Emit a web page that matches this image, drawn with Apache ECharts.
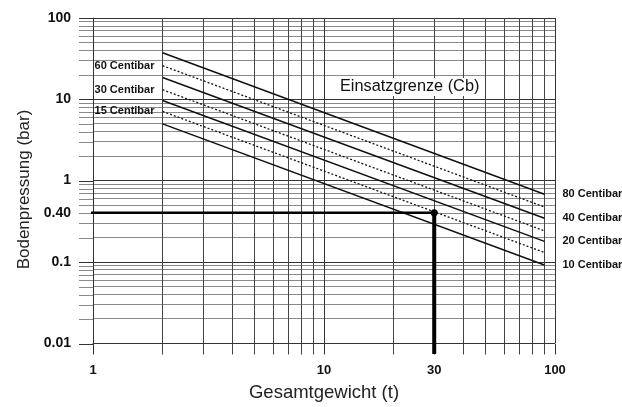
<!DOCTYPE html>
<html><head><meta charset="utf-8">
<script src="https://cdn.jsdelivr.net/npm/echarts@6/dist/echarts.min.js"></script>
<style>html,body{margin:0;padding:0;background:#fff}#c{width:622px;height:407px}</style>
</head><body><div id="c"></div>
<script>
// ---- data ----
const xTickValues = [1, 10, 30, 100];
const xTickLabels = ['1', '10', '30', '100'];
const yTickValues = [0.01, 0.1, 0.4, 1, 10, 100];
const yTickLabels = ['0.01', '0.1', '0.40', '1', '10', '100'];
const xRange = [1, 100];
const yRange = [0.01, 100];
const lineNames = ['80 Centibar', '60 Centibar', '40 Centibar', '30 Centibar', '20 Centibar', '15 Centibar', '10 Centibar'];
const lineDotted = [false, true, false, true, false, true, false];
const weightRange = [2, 90];
const pressureAtStart = [37.4, 25.9, 18.5, 13.1, 9.67, 7.08, 4.97];
const pressureAtEnd = [0.676, 0.472, 0.343, 0.240, 0.178, 0.130, 0.091];
const readWeight = 30;
const readPressure = 0.40;
const readLineFrom = { weight: 0.87, pressure: 0.0073 };
const annotation = 'Einsatzgrenze (Cb)';

const FONT = 'Liberation Sans';
const GRID_COL = '#333';
const XMINOR_COL = '#444';
const YMINOR_COL = '#8a8a8a';
const chart = echarts.init(document.getElementById('c'), null, { renderer: 'canvas' });

const lineSeries = lineNames.map((name, i) => {
  const dotted = lineDotted[i];
  return {
    type: 'line',
    name: name,
    silent: true,
    showSymbol: true,
    symbol: 'circle',
    symbolSize: 0.1,
    itemStyle: { color: 'rgba(0,0,0,0)' },
    lineStyle: { color: '#111', width: dotted ? 1.3 : 1.5, type: dotted ? [2, 2] : 'solid' },
    data: [
      {
        value: [weightRange[0], pressureAtStart[i]],
        label: dotted ? { show: true, position: 'left', distance: 8, formatter: name,
          fontFamily: FONT, fontSize: 11, fontWeight: 'bold', color: '#111' } : { show: false }
      },
      { value: [weightRange[1], pressureAtEnd[i]] }
    ],
    endLabel: dotted ? { show: false } : {
      show: true, formatter: name, distance: 18,
      fontFamily: FONT, fontSize: 11, fontWeight: 'bold', color: '#111'
    },
    z: 3
  };
});

function lookup(values, labels) {
  return v => { const k = values.findIndex(t => Math.abs(t - v) < 1e-6 * t); return k >= 0 ? labels[k] : ''; };
}

const hiddenAxis = (gi) => ({ type: 'value', gridIndex: gi, show: false, min: 0, max: 1 });

const option = {
  animation: false,
  backgroundColor: '#fff',
  grid: [
    { left: 93, right: 67, top: 18, bottom: 63 },   // main plot
    { left: 79, width: 14, top: 18, bottom: 63 },   // left tick strip
    { left: 93, right: 67, top: 344, height: 10.5 } // bottom tick strip
  ],
  xAxis: [
    {
      type: 'log', logBase: 10, min: xRange[0], max: xRange[1], gridIndex: 0,
      name: 'Gesamtgewicht (t)', nameLocation: 'middle', nameGap: 40,
      nameTextStyle: { fontFamily: FONT, fontSize: 18.5, color: '#222' },
      axisLine: { show: true, lineStyle: { color: GRID_COL, width: 1 } },
      axisTick: { show: false },
      minorTick: { show: false, splitNumber: 9 },
      splitLine: { show: true, lineStyle: { color: GRID_COL, width: 1 } },
      minorSplitLine: { show: true, lineStyle: { color: XMINOR_COL, width: 1 } },
      axisLabel: {
        customValues: xTickValues,
        formatter: lookup(xTickValues, xTickLabels),
        margin: 21, fontFamily: FONT, fontSize: 13, fontWeight: 'bold', color: '#111'
      }
    },
    hiddenAxis(1),
    {
      type: 'log', logBase: 10, min: xRange[0], max: xRange[1], gridIndex: 2,
      axisLine: { show: false }, axisTick: { show: false }, axisLabel: { show: false },
      minorTick: { show: false, splitNumber: 9 },
      splitLine: { show: true, lineStyle: { color: GRID_COL, width: 1 } },
      minorSplitLine: { show: true, lineStyle: { color: XMINOR_COL, width: 1 } }
    }
  ],
  yAxis: [
    {
      type: 'log', logBase: 10, min: yRange[0], max: yRange[1], gridIndex: 0,
      name: 'Bodenpressung (bar)', nameLocation: 'middle', nameGap: 58,
      nameTextStyle: { fontFamily: FONT, fontSize: 17, color: '#222', padding: [0, 18, 0, 0] },
      axisLine: { show: true, lineStyle: { color: GRID_COL, width: 1 } },
      axisTick: { show: false },
      minorTick: { show: false, splitNumber: 9 },
      splitLine: { show: true, lineStyle: { color: GRID_COL, width: 1 } },
      minorSplitLine: { show: true, lineStyle: { color: YMINOR_COL, width: 1 } },
      axisLabel: {
        customValues: yTickValues,
        formatter: lookup(yTickValues, yTickLabels),
        margin: 22, fontFamily: FONT, fontSize: 14, fontWeight: 'bold', color: '#111'
      }
    },
    {
      type: 'log', logBase: 10, min: yRange[0], max: yRange[1], gridIndex: 1,
      axisLine: { show: false }, axisTick: { show: false }, axisLabel: { show: false },
      minorTick: { show: false, splitNumber: 9 },
      splitLine: { show: true, lineStyle: { color: GRID_COL, width: 1 } },
      minorSplitLine: { show: true, lineStyle: { color: YMINOR_COL, width: 1 } }
    },
    hiddenAxis(2)
  ],
  graphic: [{
    type: 'text', left: 339, top: 78, z: 10,
    style: { text: annotation, fontFamily: FONT, fontSize: 16.3, fill: '#111', backgroundColor: '#fff', padding: [1, 1] }
  }],
  series: lineSeries.concat([
    {
      type: 'line', silent: true, clip: false, z: 4,
      showSymbol: true, symbol: 'none',
      lineStyle: { color: '#000', width: 2.5 },
      data: [
        { value: [readLineFrom.weight, readPressure] },
        { value: [readWeight, readPressure], symbol: 'circle', symbolSize: 7, itemStyle: { color: '#000' } }
      ]
    },
    {
      type: 'line', silent: true, clip: false, z: 4,
      symbol: 'none',
      lineStyle: { color: '#000', width: 4 },
      data: [[readWeight, readPressure], [readWeight, readLineFrom.pressure]]
    }
  ])
};
chart.setOption(option);
</script>
</body></html>
